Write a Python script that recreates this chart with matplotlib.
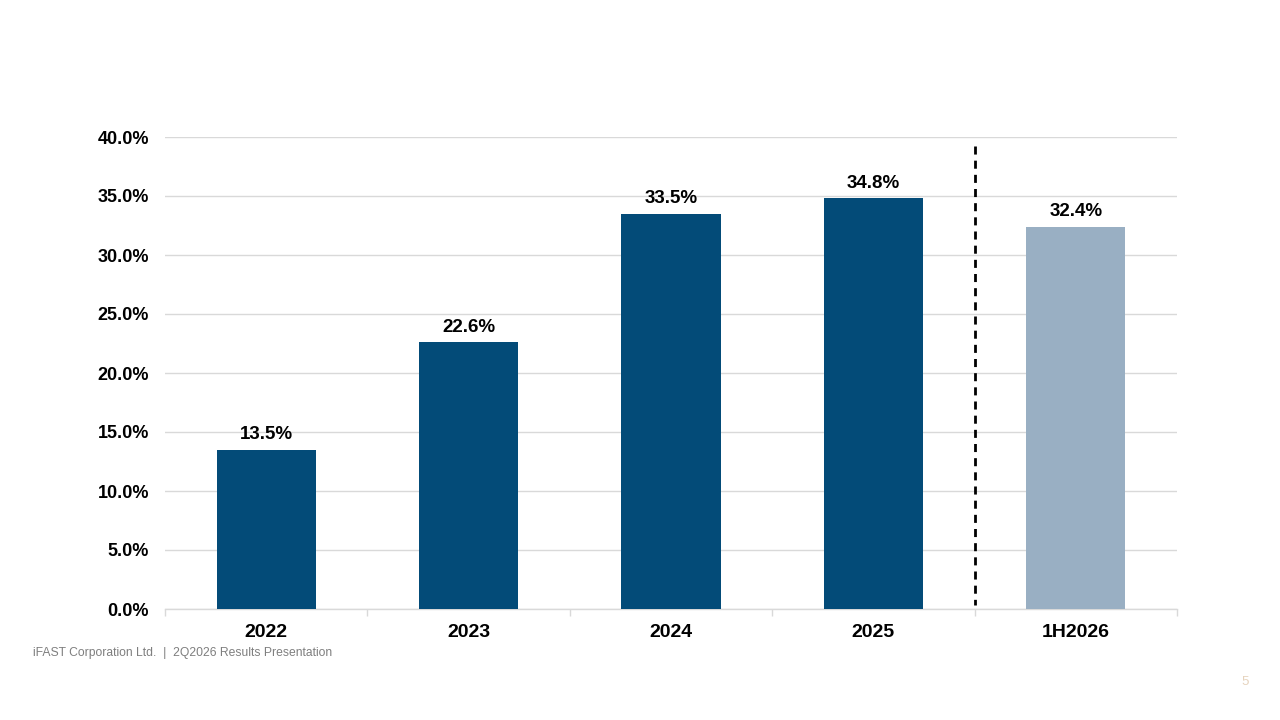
import matplotlib
matplotlib.use("Agg")
import matplotlib.pyplot as plt
from matplotlib.ticker import FuncFormatter, FixedLocator

categories = ["2022", "2023", "2024", "2025", "1H2026"]
values = [13.5, 22.6, 33.5, 34.8, 32.4]
bar_colors = ["#034b78", "#034b78", "#034b78", "#034b78", "#99afc3"]
yticks = [0, 5, 10, 15, 20, 25, 30, 35, 40]

plt.rcParams['font.family'] = ['Liberation Sans', 'DejaVu Sans']

fig = plt.figure(figsize=(12.8, 7.2), dpi=100)
ax = fig.add_axes([165/1280, 111/720, (1177-165)/1280, (609-137)/720])

x = list(range(len(categories)))
bars = ax.bar(x, values, width=0.49, color=bar_colors, zorder=3)

ax.set_xlim(-0.5, len(categories) - 0.5)
ax.set_ylim(0, 40)
ax.set_yticks(yticks)
ax.yaxis.set_major_formatter(FuncFormatter(lambda v, p: f"{v:.1f}%"))
ax.grid(axis='y', color='#d9d9d9', linewidth=1, zorder=0)
ax.tick_params(axis='y', length=0, pad=11.5, labelsize=13)
for lab in ax.get_yticklabels():
    lab.set_fontweight('bold')

ax.set_xticks(x)
ax.set_xticklabels(categories, fontsize=14, fontweight='bold')
ax.tick_params(axis='x', which='major', length=0, pad=11)
ax.xaxis.set_minor_locator(FixedLocator([i - 0.5 for i in range(len(categories) + 1)]))
ax.tick_params(axis='x', which='minor', length=5, color='#d9d9d9', width=1, direction='out')

for s in ['top', 'right', 'left']:
    ax.spines[s].set_visible(False)
ax.spines['bottom'].set_color('#d9d9d9')
ax.spines['bottom'].set_linewidth(1)

for b, v in zip(bars, values):
    ax.annotate(f"{v:.1f}%", (b.get_x() + b.get_width() / 2, v),
                xytext=(0, 4.5), textcoords='offset points',
                ha='center', va='bottom', fontsize=13.5, fontweight='bold', color='black')

ax.plot([3.5, 3.5], [39.2, 0.3], linestyle=(0, (2.9, 2.2)), color='black', linewidth=2, zorder=4)

fig.text(33/1280, 1 - 653/720, "iFAST Corporation Ltd.  |  2Q2026 Results Presentation",
         fontsize=8.7, color='#7f7f7f', va='center', ha='left')
fig.text(1245/1280, 1 - 682/720, "5", fontsize=9.5, color='#e6d3bd', va='center', ha='center')

fig.savefig("out.png", dpi=100, facecolor='white')
